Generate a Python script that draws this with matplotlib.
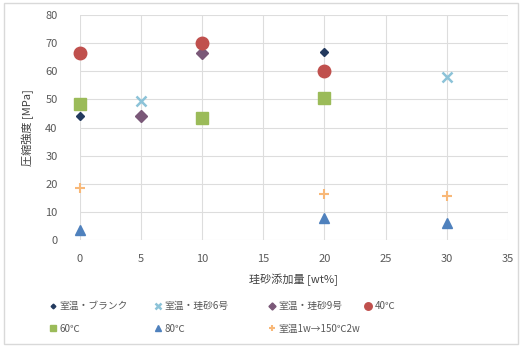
"""Compressive strength vs. silica sand content, by curing condition."""
import matplotlib.pyplot as plt
from matplotlib.patches import Rectangle

plt.rcParams['font.family'] = ['Noto Sans CJK JP', 'DejaVu Sans']

# silica sand content [wt%] and compressive strength [MPa] per series
blank_x = [0, 20]
blank_y = [44, 67]
sand6_x = [5, 30]
sand6_y = [49.5, 58]
sand9_x = [5, 10]
sand9_y = [44, 66.5]
c40_x = [0, 10, 20]
c40_y = [66.5, 70, 60]
c60_x = [0, 10, 20]
c60_y = [48.5, 43.5, 50.5]
c80_x = [0, 20, 30]
c80_y = [3.5, 8, 6]
c150_x = [0, 20, 30]
c150_y = [18.5, 16.5, 15.5]

labels = ['室温・ブランク', '室温・珪砂6号', '室温・珪砂9号', '40℃',
          '60℃', '80℃', '室温1w→150℃2w']

fig = plt.figure(figsize=(5.22, 3.47), dpi=100)
ax = fig.add_axes([0.153, 0.308, 0.82, 0.649])

kw = dict(ls='none', clip_on=False, zorder=3)
handles = []
handles += ax.plot(blank_x, blank_y, 'D', color='#233a5e', ms=4, **kw)
handles += ax.plot(sand6_x, sand6_y, 'x', color='#8cc3d8', ms=7, mew=1.8, **kw)
handles += ax.plot(sand9_x, sand9_y, 'D', color='#7a5878', ms=6, **kw)
handles += ax.plot(c40_x, c40_y, 'o', color='#c0504d', ms=9, **kw)
handles += ax.plot(c60_x, c60_y, 's', color='#9bbb59', ms=8, **kw)
handles += ax.plot(c80_x, c80_y, '^', color='#4f81bd', ms=7, **kw)
handles += ax.plot(c150_x, c150_y, '+', color='#f8b878', ms=7, mew=1.5, **kw)

ax.set_xlim(0, 35)
ax.set_ylim(0, 80)
ax.set_xticks(range(0, 36, 5))
ax.set_yticks(range(0, 81, 10))
ax.grid(True, color='#dddddd', lw=0.8)
ax.set_axisbelow(True)
for s in ax.spines.values():
    s.set_visible(False)
ax.tick_params(axis='y', length=0, labelsize=8, labelcolor='#595959', pad=16)
ax.tick_params(axis='x', length=0, labelsize=8, labelcolor='#595959', pad=10)
ax.set_xlabel('珪砂添加量 [wt%]', fontsize=8, color='#404040', labelpad=7)
ax.set_ylabel('圧縮強度 [MPa]', fontsize=8, color='#404040', labelpad=8)

# legend laid out as fixed columns, two rows
columns = [([0, 4], 0.084), ([1, 5], 0.285), ([2, 6], 0.504), ([3], 0.688)]
for idx, x0 in columns:
    y0 = 0.085 if len(idx) == 2 else 0.118
    leg = fig.legend([handles[i] for i in idx], [labels[i] for i in idx],
                     loc='center left', bbox_to_anchor=(x0, y0),
                     borderaxespad=0, frameon=False, fontsize=7,
                     labelcolor='#595959', handletextpad=0.2,
                     handlelength=1.0, markerscale=0.6, labelspacing=1.3)

fig.patches.append(Rectangle((0.008, 0.008), 0.984, 0.984, transform=fig.transFigure,
                             fill=False, ec='#d9d9d9', lw=1))

fig.savefig('out.png', dpi=100)
